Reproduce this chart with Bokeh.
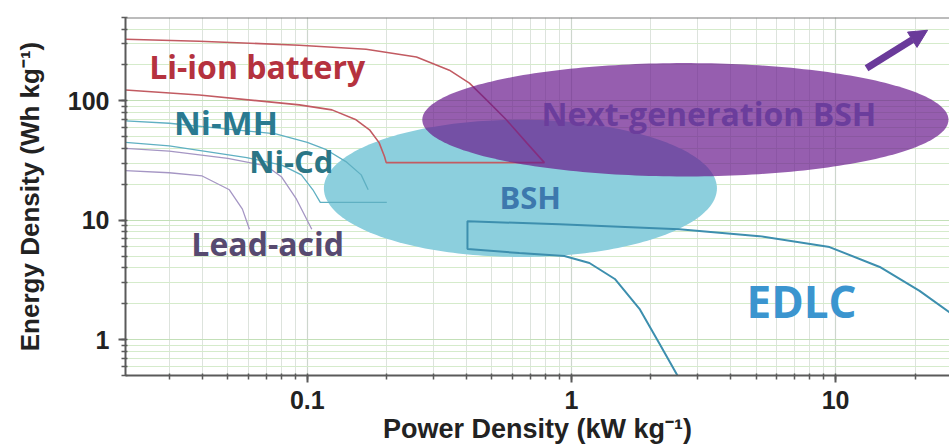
import numpy as np
from bokeh.plotting import figure
from bokeh.models import Range1d, Span, Arrow, NormalHead, ColumnDataSource
from bokeh.embed import file_html
from bokeh.resources import INLINE
from bokeh.core.properties import value

# ---------------- data ----------------
x_limits = [0.0205, 27.0]
y_limits = [0.5, 500]
x_tick_values = [0.1, 1, 10]
x_tick_labels = ["0.1", "1", "10"]
y_tick_values = [1, 10, 100]
y_tick_labels = ["1", "10", "100"]

li_upper_power = [0.0205, 0.039, 0.0933, 0.167, 0.259, 0.345, 0.411, 0.477, 0.567, 0.676, 0.79]
li_upper_energy = [329, 316, 293, 271, 233, 181, 141, 102, 69.5, 44.7, 30.4]
li_lower_power = [0.0205, 0.039, 0.0933, 0.124, 0.153, 0.172, 0.187, 0.196, 0.199]
li_lower_energy = [123.5, 112, 92.6, 84.1, 69.5, 57.3, 44.7, 34.2, 30.4]

nimh_power = [0.0205, 0.03, 0.05, 0.076, 0.1, 0.118, 0.14, 0.16, 0.17]
nimh_energy = [68, 65, 58, 53, 45, 39, 31, 24, 18]
nicd_power = [0.0205, 0.03, 0.059, 0.08, 0.095, 0.105, 0.112, 0.2]
nicd_energy = [45, 42, 33.5, 29, 24, 18, 14.1, 14.1]
lead_upper_power = [0.0205, 0.03, 0.05, 0.07, 0.08, 0.091, 0.104]
lead_upper_energy = [40, 38, 33, 28.5, 23, 15, 8.4]
lead_lower_power = [0.0205, 0.03, 0.04, 0.0507, 0.0568, 0.0604]
lead_lower_energy = [26, 25, 23.5, 18, 12.4, 8.4]

edlc_upper_power = [0.404, 0.90, 2.56, 5.15, 9.49, 14.7, 20.8, 26.8, 32.0]
edlc_upper_energy = [9.8, 9.26, 8.41, 7.36, 5.96, 4.06, 2.56, 1.71, 1.3]
edlc_lower_power = [0.404, 0.635, 0.94, 1.17, 1.46, 1.81, 2.15, 2.52, 2.6]
edlc_lower_energy = [5.73, 5.31, 5.01, 4.38, 3.22, 1.81, 0.93, 0.50, 0.45]

# regions: centre (power, energy) and half-spans in decades
bsh_center = [0.641, 18.5]
bsh_half_decades = [0.744, 0.575]
nextgen_center = [2.70, 69.5]
nextgen_half_decades = [0.996, 0.475]

arrow_start = [13.1, 188]
arrow_end = [22.3, 391]

label_texts = ["Li-ion battery", "Ni-MH", "Ni-Cd", "Lead-acid",
               "Next-generation BSH", "BSH", "EDLC"]
label_power = [0.0252, 0.0313, 0.0603, 0.0364, 0.77, 0.534, 4.60]
label_energy = [158, 52.1, 25.6, 5.21, 65.6, 13.1, 1.62]

# ---------------- styles ----------------
label_colors = ["#b5323e", "#2a7a90", "#2a7585", "#574a70", "#6b3d9c", "#3d78ad", "#3b95cf"]
label_sizes = ["32px", "33px", "31px", "32px", "32px", "31px", "44px"]
label_shift = [-11, -12, -11, -11, -9, -9, -14]


def ellipse_points(center, half):
    t = np.linspace(0, 2 * np.pi, 240)
    xs = center[0] * 10 ** (half[0] * np.cos(t))
    ys = center[1] * 10 ** (half[1] * np.sin(t))
    return xs, ys


p = figure(width=949, height=446, x_axis_type="log", y_axis_type="log",
           x_range=Range1d(*x_limits), y_range=Range1d(*y_limits),
           output_backend="svg", toolbar_location=None,
           min_border_left=125, min_border_top=17, min_border_right=0,
           min_border_bottom=69)
p.outline_line_color = None
p.background_fill_color = "white"

# grids
for ax_grid, major, minor in ((p.xgrid, "#cdd6cd", "#dde3dd"), (p.ygrid, "#c3e0b8", "#d5ebcb")):
    ax_grid.grid_line_color = major
    ax_grid.grid_line_width = 1.2
    ax_grid.minor_grid_line_color = minor
    ax_grid.minor_grid_line_width = 1

for axis in (p.xaxis[0], p.yaxis[0]):
    axis.ticker.num_minor_ticks = 10
    axis.axis_line_color = "#5a5a5a"
    axis.axis_line_width = 2
    axis.major_tick_line_color = "#5a5a5a"
    axis.major_tick_line_width = 2
    axis.minor_tick_line_color = "#5a5a5a"
    axis.minor_tick_line_width = 1.5
    axis.major_tick_in = 0
    axis.major_tick_out = 7
    axis.minor_tick_in = 2
    axis.minor_tick_out = 4
    axis.major_label_text_font = "Liberation Sans"
    axis.major_label_text_font_style = "bold"
    axis.major_label_text_font_size = "25px"
    axis.major_label_text_color = "#222222"
    axis.axis_label_text_font = "Liberation Sans"
    axis.axis_label_text_font_style = "bold"
    axis.axis_label_text_color = "#222222"

p.xaxis.major_label_overrides = dict(zip(x_tick_values, x_tick_labels))
p.yaxis.major_label_overrides = dict(zip(y_tick_values, y_tick_labels))
p.xaxis.axis_label = "Power Density (kW kg\u207b\u00b9)"
p.yaxis.axis_label = "Energy Density (Wh kg\u207b\u00b9)"
p.xaxis.axis_label_text_font_size = "27px"
p.yaxis.axis_label_text_font_size = "26px"
p.xaxis.major_label_standoff = 8
p.xaxis.axis_label_standoff = 2
p.yaxis.major_label_standoff = 9
p.yaxis.axis_label_standoff = 20

p.add_layout(Span(location=y_limits[1], dimension="width", line_color="#7a7a7a", line_width=2))

# BSH region
bx, by = ellipse_points(bsh_center, bsh_half_decades)
p.patch(bx, by, fill_color="#8ccfdd", line_color=None)

# device curves
p.line(li_upper_power + li_lower_power[::-1], li_upper_energy + li_lower_energy[::-1],
       line_color="#c25b62", line_width=1.6)
p.line(nimh_power, nimh_energy, line_color="#5fb0c2", line_width=1.3)
p.line(nicd_power, nicd_energy, line_color="#5fb0c2", line_width=1.3)
p.line(lead_upper_power, lead_upper_energy, line_color="#a596c4", line_width=1.3)
p.line(lead_lower_power, lead_lower_energy, line_color="#a596c4", line_width=1.3)
p.line(edlc_lower_power[::-1] + edlc_upper_power, edlc_lower_energy[::-1] + edlc_upper_energy,
       line_color="#3d8fae", line_width=2)

# next-generation region
nx, ny = ellipse_points(nextgen_center, nextgen_half_decades)
p.patch(nx, ny, fill_color="#691a8d", fill_alpha=0.7, line_color=None)

src = ColumnDataSource(dict(x=label_power, y=label_energy, text=label_texts,
                            color=label_colors, size=label_sizes, dy=label_shift))
p.text(x="x", y="y", text="text", source=src, text_color="color",
       text_font_size="size", text_font=value("Open Sans"), text_font_style="bold",
       text_baseline="alphabetic", text_align="left", y_offset="dy")

p.add_layout(Arrow(x_start=arrow_start[0], y_start=arrow_start[1],
                   x_end=arrow_end[0], y_end=arrow_end[1],
                   line_color="#6a3a9a", line_width=7,
                   end=NormalHead(size=18, fill_color="#6a3a9a", line_color="#6a3a9a")))

open("out.html", "w").write(file_html(p, INLINE))
